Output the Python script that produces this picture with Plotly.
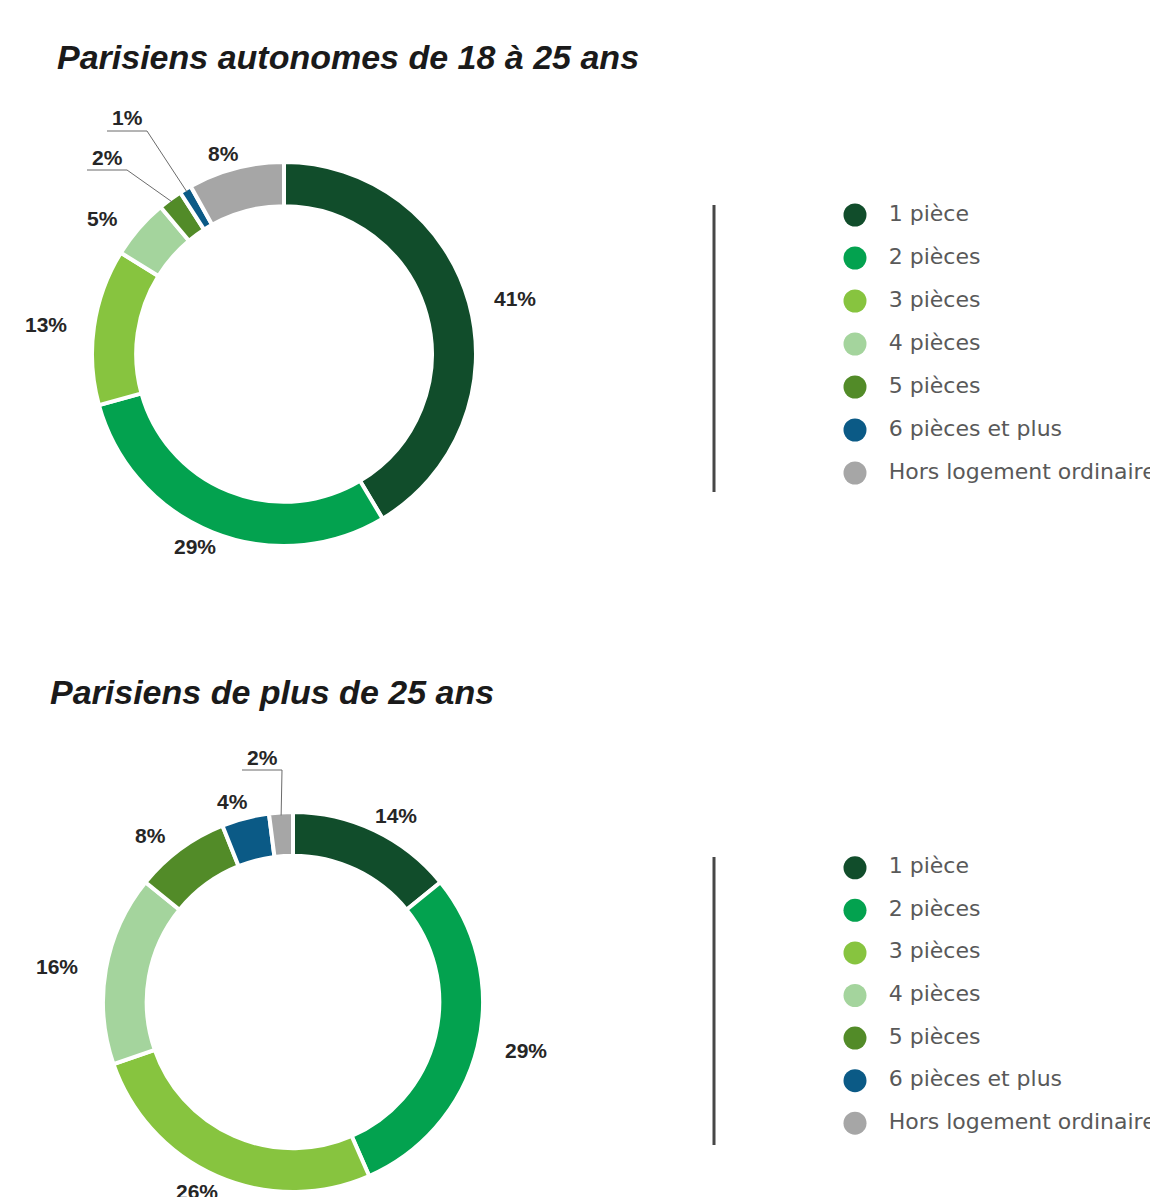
import math
import plotly.graph_objects as go

# ==========================================================
# DATA
# ==========================================================
CATEGORIES = [
    "1 pièce", "2 pièces", "3 pièces", "4 pièces",
    "5 pièces", "6 pièces et plus", "Hors logement ordinaire",
]
COLORS = ["#114d2b", "#03a24f", "#87c43f", "#a4d49d", "#528b28", "#0b5a86", "#a6a6a6"]

TITLE_18_25 = "Parisiens autonomes de 18 à 25 ans"
SHARE_18_25 = [41, 29, 13, 5, 2, 1, 8]

TITLE_25_PLUS = "Parisiens de plus de 25 ans"
SHARE_25_PLUS = [14, 29, 26, 16, 8, 4, 2]

# ==========================================================
# LAYOUT (pixel positions measured on the page, top-left origin)
# ==========================================================
PAGE_W, PAGE_H = 1158, 1197
BODY = 8                       # default html body margin around the plot div
W, H = PAGE_W - BODY, PAGE_H - BODY
FONT = "Liberation Sans, Arial, sans-serif"
LEGEND_FONT = "DejaVu Sans, Verdana, sans-serif"

CHARTS = [
    dict(title=TITLE_18_25, values=SHARE_18_25, title_pos=(55, 57),
         center=(284, 354), r=192, legend_span=(193.5, 494.5),
         line_span=(205, 492),
         # small slices with a leader line: index -> label centre
         callouts={5: (127, 118), 4: (107, 157)}),
    dict(title=TITLE_25_PLUS, values=SHARE_25_PLUS, title_pos=(48, 692),
         center=(293, 1002), r=190, legend_span=(846.5, 1144.5),
         line_span=(857, 1145),
         callouts={6: (262, 757)}),
]
LABEL_RX, LABEL_RY = 240, 207


def px(x):
    return (x - BODY) / W


def py(y):
    # page pixel from top -> paper from bottom
    return 1 - (y - BODY) / H


fig = go.Figure()

for k, c in enumerate(CHARTS):
    cx, cy = c["center"]
    r = c["r"]
    values = c["values"]
    total = sum(values)

    # ---------------- donut ----------------
    fig.add_trace(go.Pie(
        labels=CATEGORIES,
        values=values,
        textinfo="none",
        hole=0.77,
        sort=False,
        direction="clockwise",
        rotation=0,
        marker=dict(colors=COLORS, line=dict(color="white", width=4)),
        showlegend=False,
        hovertemplate="%{label}: %{value}%<extra></extra>",
        domain=dict(x=[px(cx - r), px(cx + r)], y=[py(cy + r), py(cy - r)]),
    ))

    # ---------------- percentage labels ----------------
    cum = 0
    for i, v in enumerate(values):
        theta = 2 * math.pi * (cum + v / 2) / total
        cum += v
        sx, sy = math.sin(theta), -math.cos(theta)
        if i in c["callouts"]:
            lx, ly = c["callouts"][i]
            # leader: under the label, then to the outer edge of the slice
            ex, ey = cx + (r - 3) * sx, cy + (r - 3) * sy
            ux0, ux1, uy = lx - 20, lx + 20, ly + 13
            fig.add_shape(
                type="path", xref="paper", yref="paper",
                path=(f"M {px(ux0)},{py(uy)} L {px(ux1)},{py(uy)} "
                      f"L {px(ex)},{py(ey)}"),
                line=dict(color="#6b6b6b", width=1),
            )
        else:
            lx, ly = cx + LABEL_RX * sx, cy + LABEL_RY * sy
        fig.add_annotation(
            text=f"<b>{v}%</b>", xref="paper", yref="paper",
            x=px(lx), y=py(ly), xanchor="center", yanchor="middle",
            showarrow=False,
            font=dict(family=FONT, size=21, color="#262626"),
        )

    # ---------------- legend (circles + labels on hidden axes) ----------------
    suffix = "" if k == 0 else "2"
    fig.add_trace(go.Scatter(
        x=[0] * len(CATEGORIES),
        y=CATEGORIES,
        mode="markers+text",
        text=["\u00a0\u00a0\u2009" + name for name in CATEGORIES],
        textposition="middle right",
        textfont=dict(family=LEGEND_FONT, size=22, color="#595959"),
        marker=dict(color=COLORS, size=23),
        cliponaxis=False,
        showlegend=False,
        hoverinfo="skip",
        xaxis="x" + suffix,
        yaxis="y" + suffix,
    ))
    top, bottom = c["legend_span"]
    axis_x = dict(domain=[px(810), 1], range=[-45, PAGE_W - 810 - 45],
                  visible=False, fixedrange=True)
    axis_y = dict(domain=[py(bottom), py(top)], type="category",
                  range=[len(CATEGORIES) - 0.5, -0.5],
                  visible=False, fixedrange=True)
    fig.update_layout({"xaxis" + suffix: axis_x, "yaxis" + suffix: axis_y})

    l0, l1 = c["line_span"]
    fig.add_shape(
        type="line", xref="paper", yref="paper",
        x0=px(714), x1=px(714), y0=py(l0), y1=py(l1),
        line=dict(color="#474747", width=3),
    )

    # ---------------- title ----------------
    tx, ty = c["title_pos"]
    fig.add_annotation(
        text=f"<b><i>{c['title']}</i></b>", xref="paper", yref="paper",
        x=px(tx), y=py(ty), xanchor="left", yanchor="middle", showarrow=False,
        font=dict(family=FONT, size=34, color="#1a1a1a"),
    )

fig.update_layout(
    width=W, height=H,
    margin=dict(l=0, r=0, t=0, b=0),
    paper_bgcolor="white",
    plot_bgcolor="white",
    showlegend=False,
)

fig.write_html("out.html")
